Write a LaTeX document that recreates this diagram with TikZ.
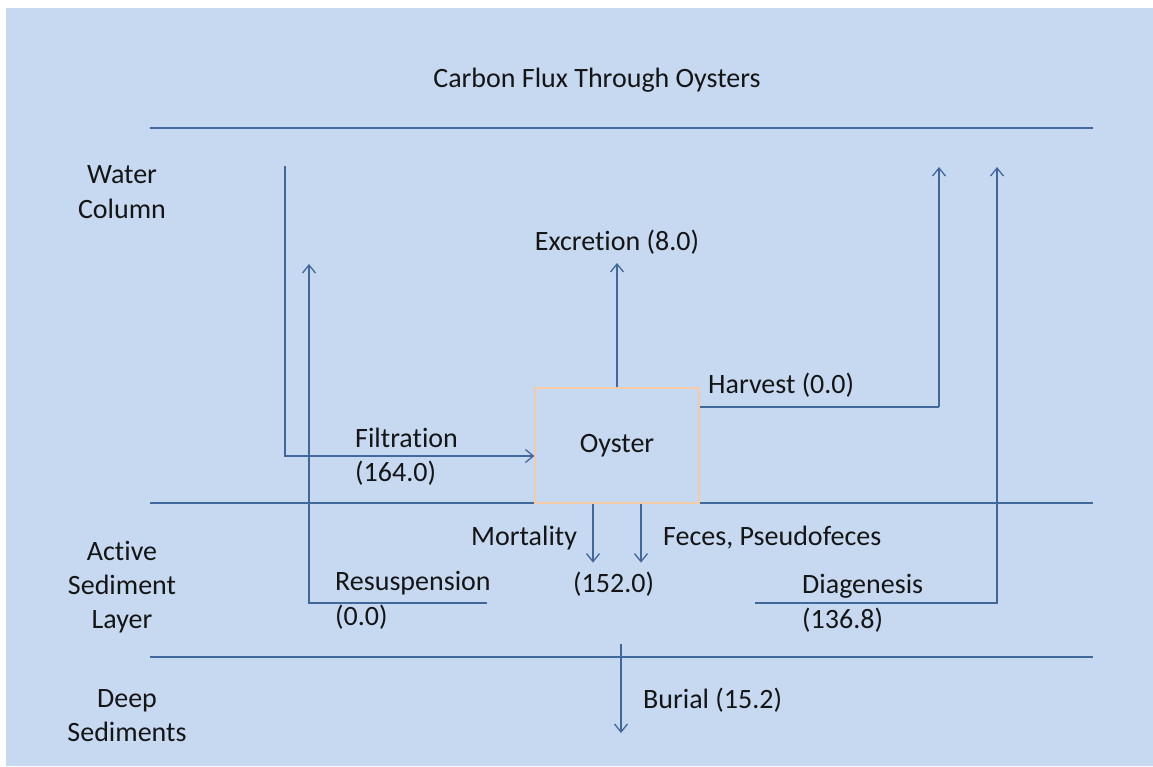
\documentclass[tikz,border=0pt]{standalone}
\usepackage{fontspec}
\setmainfont{Carlito}[Ligatures=CommonOff]
\usetikzlibrary{arrows.meta}
\definecolor{bg}{HTML}{C6D9F1}
\definecolor{ln}{HTML}{41689B}
\definecolor{boxedge}{HTML}{F5CBA7}
\definecolor{txt}{HTML}{151515}
\begin{document}
\begin{tikzpicture}[x=1pt,y=-1pt,
  lbl/.style={font=\fontsize{28}{34}\selectfont, text=txt, inner sep=0pt},
  layer/.style={draw=ln, line width=1.3pt},
  flow/.style={draw=ln, line width=1.3pt},
  arr/.style={flow, -{Straight Barb[length=8pt,width=13pt,line width=1.3pt]}},
  oysterbox/.style={draw=boxedge, line width=1.2pt, fill=bg, minimum width=164pt, minimum height=115pt, inner sep=0pt}]
  % page and background panel
  \useasboundingbox (0,0) rectangle (1153,766);
  \fill[white] (0,0) rectangle (1153,766);
  \fill[bg] (6,8) rectangle (1153,766);

  % title
  \node[lbl, anchor=base] (title) at (597,87) {Carbon Flux Through Oysters};

  % layer boundaries
  \draw[layer] (150,128) -- (1093,128);
  \draw[layer] (150,503) -- (1093,503);
  \draw[layer] (150,657) -- (1093,657);

  % layer names
  \node[lbl, anchor=base] (wc1) at (122,183) {Water};
  \node[lbl, anchor=base] (wc2) at (122,218) {Column};
  \node[lbl, anchor=base] (as1) at (122,560) {Active};
  \node[lbl, anchor=base] (as2) at (122,594) {Sediment};
  \node[lbl, anchor=base] (as3) at (122,628) {Layer};
  \node[lbl, anchor=base] (ds1) at (127,707) {Deep};
  \node[lbl, anchor=base] (ds2) at (127,741) {Sediments};

  % the oyster compartment
  \node[oysterbox] (oyster) at (617,445.5) {};
  \node[lbl] (oysterlbl) at (oyster.center) {Oyster};

  % flux end points
  \coordinate (filtTop) at (285,166);
  \coordinate (exTip) at (617,263);
  \coordinate (harvCorner) at (939,407);
  \coordinate (harvTip) at (939,167);
  \coordinate (resStart) at (487,603);
  \coordinate (resTip) at (309,264);
  \coordinate (diaStart) at (755,603);
  \coordinate (diaTip) at (997,167);
  \coordinate (burTop) at (621,644);
  \coordinate (burTip) at (621,733);

  % fluxes
  \draw[arr] (filtTop) |- ([yshift=-10.5pt]oyster.west);
  \draw[arr] (oyster.north) -- (exTip);
  \draw[flow] ([yshift=38.5pt]oyster.east) -- (harvCorner);
  \draw[arr] (harvCorner) -- (harvTip);
  \draw[arr] (resStart) -| (resTip);
  \draw[arr] (diaStart) -| (diaTip);
  \draw[arr] ([xshift=-24pt]oyster.south) -- ++(0,59);
  \draw[arr] ([xshift=24pt]oyster.south) -- ++(0,59);
  \draw[arr] (burTop) -- (burTip);

  % flux labels
  \node[lbl, anchor=base] (exLbl) at (617,250) {Excretion (8.0)};
  \node[lbl, anchor=base west] (harvLbl) at (708,393) {Harvest (0.0)};
  \node[lbl, anchor=base west] (filtLbl1) at (355,447) {Filtration};
  \node[lbl, anchor=base west] (filtLbl2) at (355,481) {(164.0)};
  \node[lbl, anchor=base west] (mortLbl) at (471,545) {Mortality};
  \node[lbl, anchor=base west] (fecLbl) at (663,545) {Feces, Pseudofeces};
  \node[lbl, anchor=base west] (depLbl) at (573,592) {(152.0)};
  \node[lbl, anchor=base west] (resLbl1) at (335,590) {Resuspension};
  \node[lbl, anchor=base west] (resLbl2) at (335,625) {(0.0)};
  \node[lbl, anchor=base west] (diaLbl1) at (802,593) {Diagenesis};
  \node[lbl, anchor=base west] (diaLbl2) at (802,628) {(136.8)};
  \node[lbl, anchor=base west] (burLbl) at (643,708) {Burial (15.2)};
\end{tikzpicture}
\end{document}
